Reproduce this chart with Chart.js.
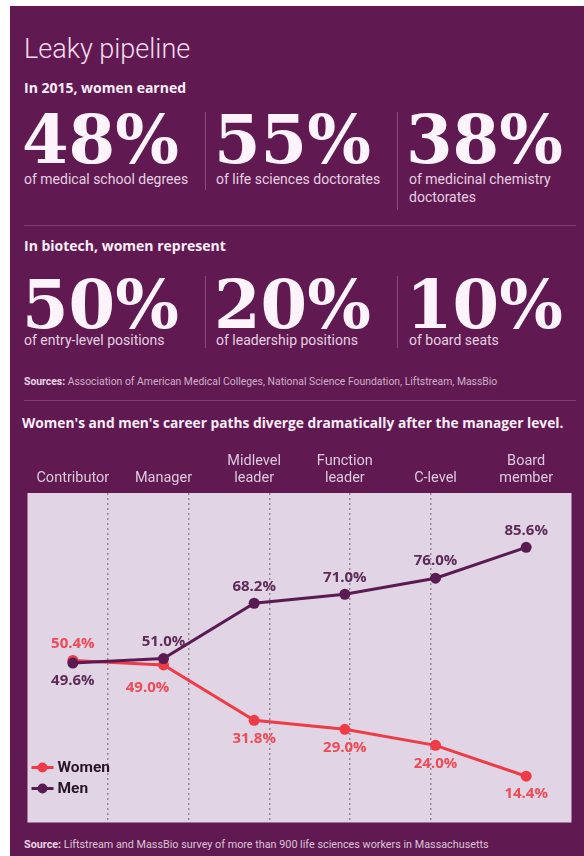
<!DOCTYPE html>
<html>
<head>
<meta charset="utf-8">
<script src="https://cdn.jsdelivr.net/npm/chart.js@4.4.1/dist/chart.umd.min.js"></script>
<style>
  body { margin: 0; background: #fff; font-family: Roboto, sans-serif; }
  #panel { position: absolute; left: 10px; top: 6px; width: 574px; height: 850px; background: #601a51; }
  .t { position: absolute; white-space: nowrap; line-height: 1; }
  .big { font-family: "DejaVu Serif", serif; font-weight: 700; font-size: 67px; color: #fdf3fa; }
  .sub { font-size: 14px; color: #e6d0e2; }
  .head { font-family: "Open Sans", sans-serif; font-size: 14px; font-weight: 700; color: #fbeef8; }
  .vr { position: absolute; width: 1px; background: #8b4c80; }
  .hr { position: absolute; height: 1px; left: 24px; width: 552px; background: #7e3c72; }
  .src { font-size: 10.4px; color: #cdb0c8; }
  .src b { color: #e8d4e4; }
  #wrap { position: absolute; left: 22px; top: 440px; width: 555px; height: 388px; }
</style>
</head>
<body>
<div id="panel"></div>

<div class="t" style="left:24px;top:36px;font-size:27px;font-weight:300;color:#f4dcef">Leaky pipeline</div>
<div class="t head" style="left:24px;top:81px">In 2015, women earned</div>

<div class="t big" style="left:22px;top:106px">48%</div>
<div class="t big" style="left:214px;top:106px">55%</div>
<div class="t big" style="left:406px;top:106px">38%</div>
<div class="vr" style="left:205px;top:112px;height:78px"></div>
<div class="vr" style="left:397px;top:112px;height:98px"></div>
<div class="t sub" style="left:24px;top:172px">of medical school degrees</div>
<div class="t sub" style="left:216px;top:172px">of life sciences doctorates</div>
<div class="t sub" style="left:409px;top:172px">of medicinal chemistry</div>
<div class="t sub" style="left:409px;top:190px">doctorates</div>

<div class="hr" style="top:225px"></div>

<div class="t head" style="left:24px;top:239px">In biotech, women represent</div>
<div class="t big" style="left:22px;top:271px">50%</div>
<div class="t big" style="left:214px;top:271px">20%</div>
<div class="t big" style="left:406px;top:271px">10%</div>
<div class="vr" style="left:205px;top:276px;height:72px"></div>
<div class="vr" style="left:397px;top:276px;height:72px"></div>
<div class="t sub" style="left:24px;top:333px">of entry-level positions</div>
<div class="t sub" style="left:216px;top:333px">of leadership positions</div>
<div class="t sub" style="left:409px;top:333px">of board seats</div>

<div class="t src" style="left:24px;top:377px"><b>Sources:</b> Association of American Medical Colleges, National Science Foundation, Liftstream, MassBio</div>
<div class="hr" style="top:400px"></div>

<div class="t head" style="left:22px;top:416px;font-size:13.75px">Women's and men's career paths diverge dramatically after the manager level.</div>

<div id="wrap"><canvas id="grafico"></canvas></div>

<div class="t src" style="left:24px;top:840px;font-size:10.8px;color:#dcc4d8"><b>Source:</b> Liftstream and MassBio survey of more than 900 life sciences workers in Massachusetts</div>

<script>
// dados do gráfico
const categorias = ['Contributor', 'Manager', ['Midlevel', 'leader'], ['Function', 'leader'], 'C-level', ['Board', 'member']];
const mulheres = [50.4, 49.0, 31.8, 29.0, 24.0, 14.4];
const homens = [49.6, 51.0, 68.2, 71.0, 76.0, 85.6];
const divisorias = [1, 2, 3, 4, 5]; // linhas pontilhadas

const corMulheres = '#ee3b45';
const corHomens = '#5a1a52';

// onde vai o rótulo de cada ponto
const posMulheres = ['acima', 'abaixo', 'abaixo', 'abaixo', 'abaixo', 'abaixo'];
const posHomens = ['abaixo', 'acima', 'acima', 'acima', 'acima', 'acima'];

// fundo lilás só na área do gráfico
const fundo = {
  id: 'fundo',
  beforeDraw(chart) {
    const a = chart.chartArea, c = chart.ctx;
    c.save();
    c.fillStyle = '#e1d5e5';
    c.fillRect(a.left, a.top, a.right - a.left, a.bottom - a.top);
    c.restore();
  }
};

// rótulos de porcentagem
const rotulos = {
  id: 'rotulos',
  afterDatasetsDraw(chart) {
    const c = chart.ctx;
    c.save();
    c.font = '700 15px "Open Sans", sans-serif';
    c.textAlign = 'center';
    c.textBaseline = 'middle';
    chart.data.datasets.forEach((ds, i) => {
      const pos = i === 0 ? posMulheres : posHomens;
      chart.getDatasetMeta(i).data.forEach((pt, j) => {
        let dx = 0, dy = pos[j] === 'acima' ? -17 : 18;
        if (i === 0 && j === 1) { dx = -16; dy = 23; }
        c.fillStyle = i === 0 ? '#ef4a55' : '#5e2a58';
        c.fillText(ds.data[j].toFixed(1) + '%', pt.x + dx, pt.y + dy);
      });
    });
    c.restore();
  }
};

// legenda dentro do gráfico, canto inferior esquerdo
const legenda = {
  id: 'legenda',
  afterDraw(chart) {
    const c = chart.ctx, a = chart.chartArea;
    c.save();
    chart.data.datasets.forEach((ds, i) => {
      const y = a.bottom - 55 + i * 21;
      const x = a.left + 4;
      c.strokeStyle = ds.borderColor;
      c.lineWidth = 3;
      c.beginPath(); c.moveTo(x, y); c.lineTo(x + 22, y); c.stroke();
      c.fillStyle = ds.borderColor;
      c.beginPath(); c.arc(x + 11, y, 5, 0, Math.PI * 2); c.fill();
      c.fillStyle = '#2a1429';
      c.font = '700 15.5px Roboto, sans-serif';
      c.textAlign = 'left';
      c.textBaseline = 'middle';
      c.fillText(ds.label, x + 26, y + 1);
    });
    c.restore();
  }
};

new Chart(document.getElementById('grafico'), {
  type: 'line',
  data: {
    labels: categorias,
    datasets: [{
      label: 'Women',
      data: mulheres,
      borderColor: corMulheres,
      backgroundColor: corMulheres,
      borderWidth: 3,
      pointRadius: 5.5,
      pointBorderWidth: 0,
      tension: 0,
      order: 1
    }, {
      label: 'Men',
      data: homens,
      borderColor: corHomens,
      backgroundColor: corHomens,
      borderWidth: 3,
      pointRadius: 5.5,
      pointBorderWidth: 0,
      tension: 0,
      order: 0
    }]
  },
  options: {
    responsive: true,
    maintainAspectRatio: false,
    animation: false,
    layout: { padding: 0 },
    plugins: {
      legend: { display: false },
      tooltip: { enabled: false }
    },
    scales: {
      x: {
        type: 'category',
        position: 'top',
        offset: true,
        grid: { display: false, drawTicks: false },
        border: { display: false },
        ticks: {
          color: '#dccbdc',
          font: { size: 14.5, family: 'Roboto' },
          padding: 6,
          maxRotation: 0,
          autoSkip: false
        },
        afterFit: s => { s.height = 53; }
      },
      xg: {
        type: 'linear',
        position: 'bottom',
        min: 0,
        max: 6.75,
        afterBuildTicks: s => { s.ticks = divisorias.map(v => ({ value: v })); },
        grid: { color: '#978897', lineWidth: 1.5, drawTicks: false },
        border: { display: false, dash: [2, 3] },
        ticks: { display: false },
        afterFit: s => { s.height = 0; }
      },
      y: {
        display: false,
        min: 0,
        max: 102.5
      }
    }
  },
  plugins: [fundo, rotulos, legenda]
});
</script>
</body>
</html>
